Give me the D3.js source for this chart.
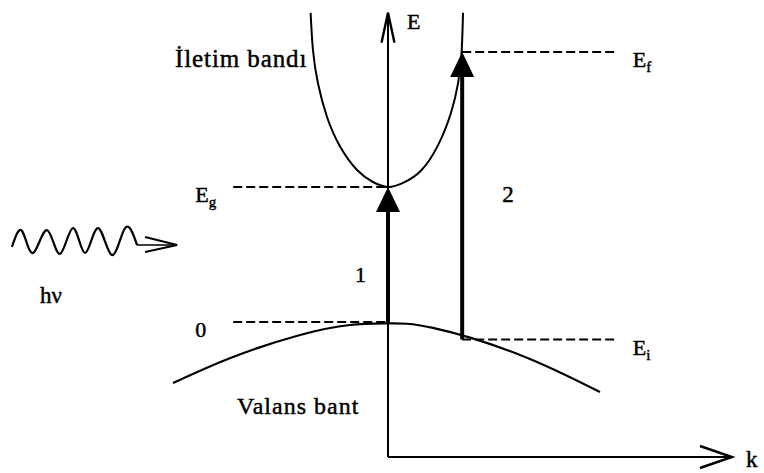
<!DOCTYPE html>
<html>
<head>
<meta charset="utf-8">
<script src="https://cdn.jsdelivr.net/npm/d3@7"></script>
<style>
  html, body { margin: 0; padding: 0; background: #fff; }
  svg { display: block; }
  text { font-family: "Liberation Serif", "Times New Roman", serif; fill: #000; stroke: #000; stroke-width: 0.45px; }
</style>
</head>
<body>
<svg id="chart" width="764" height="473"></svg>
<script>
// Band diagram: energy E (in units of Eg) against wavevector k (normalized).

// Conduction band (İletim bandı)
const conductionK = [-0.36, -0.349, -0.326, -0.284, -0.223, -0.144, -0.07, 0, 0.07, 0.153, 0.233, 0.293, 0.326, 0.342, 0.349];
const conductionE = [2.29, 2.015, 1.77, 1.52, 1.30, 1.126, 1.037, 1.0, 1.03, 1.12, 1.31, 1.55, 1.77, 1.99, 2.29];

// Valence band (Valans bant)
const valenceK = [-1.0, -0.721, -0.409, -0.177, 0, 0.209, 0.614, 0.986];
const valenceE = [-0.452, -0.259, -0.096, -0.022, -0.01, -0.044, -0.244, -0.519];

// Energy levels marked with dashed lines
const levelNames = ["E", "0", "E", "E"];
const levelSubs = ["g", "", "f", "i"];
const levelE = [1.0, 0.0, 2.0, -0.13];
const levelFromK = [-0.72, -0.72, 0.345, 0.345];
const levelToK = [0, 0, 1.055, 1.055];
const levelSide = ["left", "left", "right", "right"];

// Optical transitions: 1 = direct, 2 = from Ei up to Ef
const transitionNames = ["1", "2"];
const transitionK = [0, 0.345];
const transitionFromE = [-0.01, -0.13];
const transitionToE = [1.0, 2.0];

// Incoming photon hν (wave crests and troughs)
const photonK = [-1.749, -1.702, -1.651, -1.586, -1.526, -1.465, -1.409, -1.349, -1.284, -1.223, -1.167];
const photonE = [0.556, 0.674, 0.511, 0.681, 0.504, 0.696, 0.511, 0.696, 0.496, 0.696, 0.570];
const photonTipK = -0.981;

// Axis extents
const kAxisMax = 1.6;
const eAxisMax = 2.29;
const eAxisMin = -1.0;

const svg = d3.select("#chart");
const x = d3.scaleLinear().domain([-1, 1]).range([173, 603]);
const y = d3.scaleLinear().domain([0, 1]).range([322, 187]);

const g = svg.append("g");
const line = d3.line().x(d => x(d[0])).y(d => y(d[1]));

// Axes with open arrowheads
g.append("path")
  .attr("d", line([[0, eAxisMin], [0, eAxisMax]]))
  .attr("stroke", "#000").attr("stroke-width", 2).attr("fill", "none");
g.append("path")
  .attr("d", `M${x(0) - 6.5},${y(eAxisMax) + 30} L${x(0)},${y(eAxisMax)} L${x(0) + 6.5},${y(eAxisMax) + 30}`)
  .attr("stroke", "#000").attr("stroke-width", 2.4).attr("fill", "none");
g.append("path")
  .attr("d", line([[0, eAxisMin], [kAxisMax, eAxisMin]]))
  .attr("stroke", "#000").attr("stroke-width", 2).attr("fill", "none");
g.append("path")
  .attr("d", `M${x(kAxisMax) - 32},${y(eAxisMin) - 11} L${x(kAxisMax)},${y(eAxisMin)} L${x(kAxisMax) - 32},${y(eAxisMin) + 11}`)
  .attr("stroke", "#000").attr("stroke-width", 2.4).attr("fill", "none");

// Axis labels
g.append("text").attr("x", x(0) + 19).attr("y", y(eAxisMax) + 16)
  .attr("font-size", 22).text("E");
g.append("text").attr("x", x(kAxisMax) + 14).attr("y", y(eAxisMin) + 10)
  .attr("font-size", 23).text("k");

// Bands
const smooth = d3.line().x(d => x(d[0])).y(d => y(d[1])).curve(d3.curveNatural);
g.append("path")
  .attr("d", smooth(d3.zip(conductionK, conductionE)))
  .attr("stroke", "#000").attr("stroke-width", 2).attr("fill", "none");
g.append("path")
  .attr("d", smooth(d3.zip(valenceK, valenceE)))
  .attr("stroke", "#000").attr("stroke-width", 2.2).attr("fill", "none");

// Dashed energy levels and their labels
levelE.forEach((e, i) => {
  g.append("path")
    .attr("d", line([[levelFromK[i], e], [levelToK[i], e]]))
    .attr("stroke", "#000").attr("stroke-width", 2)
    .attr("stroke-dasharray", "9,4").attr("fill", "none");
  const lx = levelSide[i] === "left" ? x(levelFromK[i]) - 38 : x(levelToK[i]) + 18;
  const t = g.append("text").attr("x", lx).attr("y", y(e) + 15).attr("font-size", 22);
  t.append("tspan").text(levelNames[i]);
  if (levelSubs[i]) {
    t.append("tspan").attr("dy", 5).attr("font-size", 15).text(levelSubs[i]);
  }
});

// Transition arrows with filled heads
const headH = 25, headW = 12;
transitionK.forEach((k, i) => {
  const tipY = y(transitionToE[i]);
  g.append("path")
    .attr("d", line([[k, transitionFromE[i]], [k, y.invert(tipY + headH - 2)]]))
    .attr("stroke", "#000").attr("stroke-width", 4).attr("fill", "none");
  g.append("path")
    .attr("d", `M${x(k)},${tipY} L${x(k) - headW},${tipY + headH} L${x(k) + headW},${tipY + headH} Z`)
    .attr("fill", "#000");
});
g.append("text").attr("x", x(transitionK[0]) - 33).attr("y", y(0.3)).attr("font-size", 22).text(transitionNames[0]);
g.append("text").attr("x", x(transitionK[1]) + 40).attr("y", y(0.89)).attr("font-size", 23).text(transitionNames[1]);

// Band names
g.append("text").attr("x", 175).attr("y", y(1.89)).attr("font-size", 25)
  .attr("letter-spacing", 0.9).text("İletim bandı");
g.append("text").attr("x", 237).attr("y", y(-0.682)).attr("font-size", 24)
  .attr("letter-spacing", 1).text("Valans bant");

// Photon: wavy line and open arrowhead
const wave = d3.line().x(d => x(d[0])).y(d => y(d[1])).curve(d3.curveNatural);
g.append("path")
  .attr("d", wave(d3.zip(photonK, photonE)))
  .attr("stroke", "#000").attr("stroke-width", 2.2).attr("fill", "none");
const pe = photonE[photonE.length - 1];
g.append("path")
  .attr("d", line([[photonK[photonK.length - 1], pe], [photonTipK, pe]]))
  .attr("stroke", "#000").attr("stroke-width", 1.6).attr("fill", "none");
g.append("path")
  .attr("d", `M${x(photonTipK) - 32},${y(pe) - 8} L${x(photonTipK)},${y(pe)} L${x(photonTipK) - 32},${y(pe) + 7}`)
  .attr("stroke", "#000").attr("stroke-width", 2).attr("fill", "none");
g.append("text").attr("x", 40).attr("y", y(pe) + 58).attr("font-size", 23).text("hν");
</script>
</body>
</html>
